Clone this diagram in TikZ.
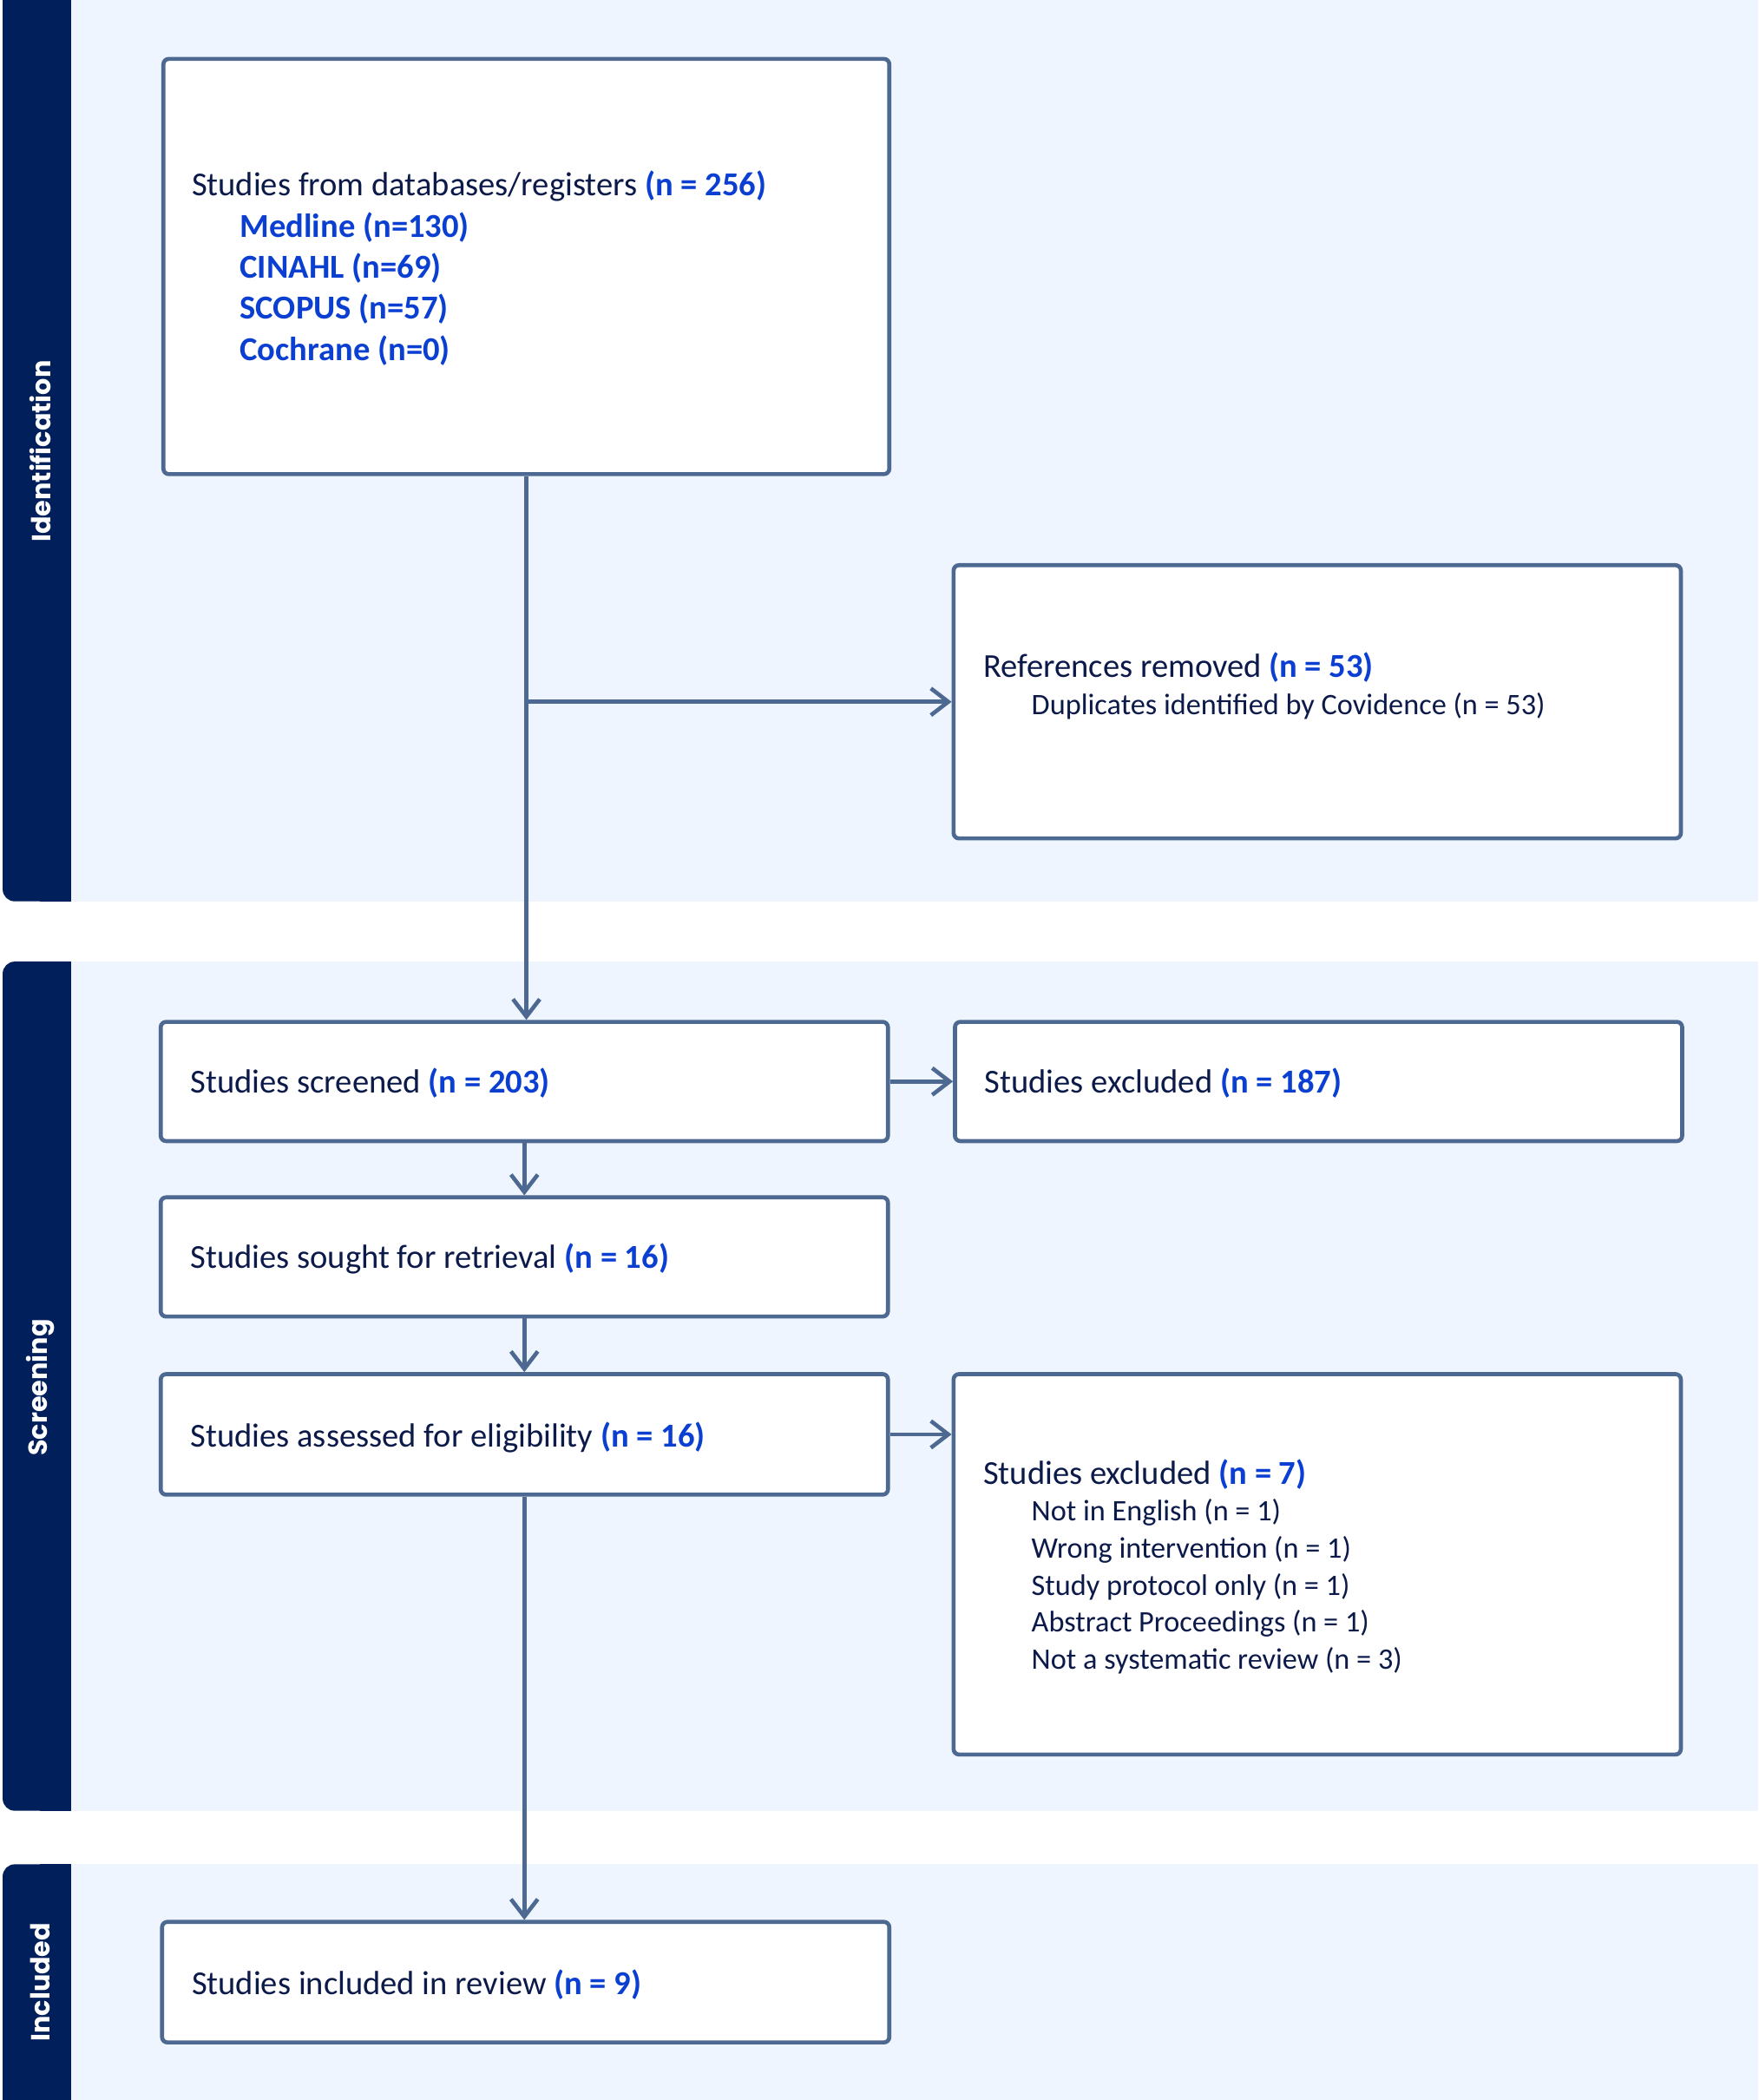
\documentclass[tikz,border=0pt]{standalone}
\usepackage{fontspec}
\setmainfont{Carlito}
\newfontfamily\sidefont{Poppins}
\usetikzlibrary{arrows.meta}
\definecolor{navy}{HTML}{001F5B}
\definecolor{bandbg}{HTML}{EEF5FE}
\definecolor{boxline}{HTML}{4E6991}
\definecolor{txt}{HTML}{0C1A4A}
\definecolor{hl}{HTML}{0B3FD2}
\newcommand{\hlb}[1]{\textcolor{hl}{\bfseries #1}}
\tikzset{
  box/.style={draw=boxline, line width=3pt, fill=white, rounded corners=4pt, inner sep=0pt},
  maintext/.style={anchor=west, inner sep=0pt, text=txt, font=\fontsize{25}{30}\selectfont},
  subtext/.style={anchor=west, inner sep=0pt, text=txt, font=\fontsize{22.2}{27}\selectfont},
  listtext/.style={anchor=west, inner sep=0pt, text=hl, font=\fontsize{25}{30}\selectfont\bfseries},
  sidelabel/.style={rotate=90, text=white, font=\sidefont\fontsize{19.6}{22}\selectfont\bfseries, inner sep=0pt},
  flow/.style={draw=boxline, line width=3pt, -{Straight Barb[length=13pt,width=20pt,line width=3pt]}},
  plain/.style={draw=boxline, line width=3pt}
}
\begin{document}
\begin{tikzpicture}[x=1pt,y=-1pt]
\useasboundingbox (0,0) rectangle (1313,1568);
\fill[white] (0,0) rectangle (1313,1568);
% bands
\fill[bandbg] (53,-10) rectangle (1313,673);
\fill[bandbg] (53,718) rectangle (1313,1352);
\fill[bandbg] (53,1392) rectangle (1313,1580);
\fill[navy, rounded corners=9pt] (2,-10) rectangle (53,673);
\fill[navy] (30,-10) rectangle (53,673);
\fill[navy, rounded corners=9pt] (2,718) rectangle (53,1352);
\fill[navy] (30,718) rectangle (53,1352);
\fill[navy, rounded corners=9pt] (2,1392) rectangle (53,1580);
\fill[navy] (30,1392) rectangle (53,1580);
\node[sidelabel] (lid) at (30,337) {Identification};
\node[sidelabel] (lsc) at (30,1036) {Screening};
\node[sidelabel] (lin) at (30,1480) {Included};
% boxes
\node[box, minimum width=542pt, minimum height=310pt] (b1) at (393,199) {};
\node[box, minimum width=543pt, minimum height=204pt] (b2) at (983.5,524) {};
\node[box, minimum width=543pt, minimum height=89pt] (scr) at (391.5,807.5) {};
\node[box, minimum width=543pt, minimum height=89pt] (ex1) at (984.5,807.5) {};
\node[box, minimum width=543pt, minimum height=89pt] (sou) at (391.5,938.5) {};
\node[box, minimum width=543pt, minimum height=90pt] (ass) at (391.5,1071) {};
\node[box, minimum width=543pt, minimum height=284pt] (ex2) at (983.5,1168) {};
\node[box, minimum width=543pt, minimum height=90pt] (inc) at (392.5,1480) {};
% texts
\node[maintext] (t1) at (143,139) {Studies from databases/registers \hlb{(n = 256)}};
\node[listtext] (t1a) at (179,170) {Medline (n=130)};
\node[listtext] (t1b) at (179,200.5) {CINAHL (n=69)};
\node[listtext] (t1c) at (179,231) {SCOPUS (n=57)};
\node[listtext] (t1d) at (179,262) {Cochrane (n=0)};
\node[maintext] (t2) at (734,498) {References removed \hlb{(n = 53)}};
\node[subtext] (t2a) at (770,527) {Duplicates identified by Covidence (n = 53)};
\node[maintext] (t3) at (142,809) {Studies screened \hlb{(n = 203)}};
\node[maintext] (t4) at (735,809) {Studies excluded \hlb{(n = 187)}};
\node[maintext] (t5) at (142,940) {Studies sought for retrieval \hlb{(n = 16)}};
\node[maintext] (t6) at (142,1073) {Studies assessed for eligibility \hlb{(n = 16)}};
\node[maintext] (t7) at (734,1101) {Studies excluded \hlb{(n = 7)}};
\node[subtext] (t7a) at (770,1129) {Not in English (n = 1)};
\node[subtext] (t7b) at (770,1157) {Wrong intervention (n = 1)};
\node[subtext] (t7c) at (770,1185) {Study protocol only (n = 1)};
\node[subtext] (t7d) at (770,1212) {Abstract Proceedings (n = 1)};
\node[subtext] (t7e) at (770,1240) {Not a systematic review (n = 3)};
\node[maintext] (t8) at (143,1482) {Studies included in review \hlb{(n = 9)}};
% connectors
\coordinate (br) at (b1.south |- b2.west);
\draw[plain] (b1.south) -- (br);
\draw[flow] (br) -- (b2.west);
\draw[flow] (br) -- (br |- scr.north);
\draw[flow] (scr.east) -- (ex1.west);
\draw[flow] (scr.south) -- (scr.south |- sou.north);
\draw[flow] (sou.south) -- (sou.south |- ass.north);
\draw[flow] (ass.east) -- (ass.east -| ex2.west);
\draw[flow] (ass.south) -- (ass.south |- inc.north);
\end{tikzpicture}
\end{document}
